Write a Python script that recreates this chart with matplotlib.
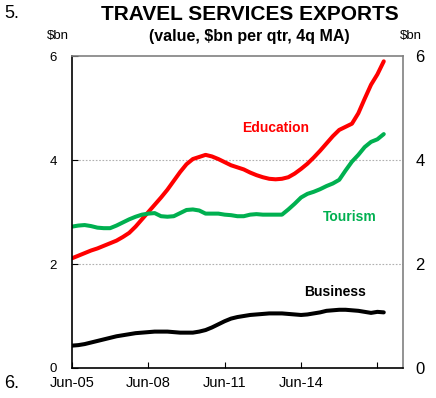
import numpy as np
import matplotlib.pyplot as plt

plt.rcParams['font.family'] = ['Liberation Sans', 'DejaVu Sans']

# quarterly, Jun-05 onwards (4q moving average, $bn per qtr)
education = [2.11, 2.16, 2.21, 2.26, 2.30, 2.35, 2.40, 2.45, 2.52, 2.60,
             2.72, 2.86, 3.00, 3.14, 3.28, 3.43, 3.60, 3.77, 3.92, 4.02,
             4.06, 4.10, 4.07, 4.02, 3.96, 3.90, 3.86, 3.82, 3.76, 3.71,
             3.67, 3.64, 3.63, 3.64, 3.67, 3.74, 3.83, 3.93, 4.05, 4.18,
             4.32, 4.46, 4.58, 4.64, 4.70, 4.90, 5.18, 5.45, 5.65, 5.90]
tourism = [2.72, 2.74, 2.75, 2.73, 2.70, 2.69, 2.69, 2.74, 2.80, 2.86,
           2.91, 2.95, 2.97, 2.98, 2.92, 2.91, 2.92, 2.98, 3.04, 3.05,
           3.03, 2.97, 2.97, 2.97, 2.95, 2.94, 2.92, 2.92, 2.95, 2.96,
           2.95, 2.95, 2.95, 2.95, 3.05, 3.16, 3.28, 3.35, 3.39, 3.44,
           3.50, 3.55, 3.62, 3.80, 3.97, 4.10, 4.25, 4.35, 4.40, 4.50]
business = [0.43, 0.44, 0.46, 0.49, 0.52, 0.55, 0.58, 0.61, 0.63, 0.65,
            0.67, 0.68, 0.69, 0.70, 0.70, 0.70, 0.69, 0.68, 0.68, 0.68,
            0.70, 0.73, 0.78, 0.84, 0.90, 0.95, 0.98, 1.00, 1.02, 1.03,
            1.04, 1.05, 1.05, 1.05, 1.04, 1.03, 1.02, 1.03, 1.05, 1.07,
            1.10, 1.11, 1.12, 1.12, 1.11, 1.10, 1.08, 1.06, 1.08, 1.07]
tick_labels = ['Jun-05', 'Jun-08', 'Jun-11', 'Jun-14', '']

q = np.arange(len(education))

fig = plt.figure(figsize=(4.36, 3.98), dpi=100)
ax = fig.add_axes([0.165, 0.0754, 0.759, 0.7836])

ax.plot(q, education, color='#ff0000', lw=2.9, solid_capstyle='round')
ax.plot(q, tourism, color='#00b050', lw=2.9, solid_capstyle='round')
ax.plot(q, business, color='black', lw=2.9, solid_capstyle='round')

ax.set_xlim(0, 52)
ax.set_ylim(0, 6)
ax.set_xticks([0, 12, 24, 36, 48])
ax.set_xticklabels(tick_labels, fontsize=10.5)
ax.set_yticks([0, 2, 4, 6])
ax.tick_params(axis='x', direction='in', length=4, pad=6)
ax.tick_params(axis='y', direction='in', length=4, labelsize=9.5, pad=11)
for y in [2, 4]:
    ax.axhline(y, color='#b0b0b0', lw=0.8, ls=(0, (1.5, 1.5)), zorder=0)

for s in ['top', 'right']:
    ax.spines[s].set_color('#808080')
    ax.spines[s].set_linewidth(1.2)
for s in ['left', 'bottom']:
    ax.spines[s].set_linewidth(1.2)

ax2 = ax.twinx()
ax2.set_ylim(0, 6)
ax2.set_yticks([0, 2, 4, 6])
ax2.tick_params(axis='y', length=0, labelsize=12, pad=9)
for s in ax2.spines.values():
    s.set_visible(False)


# text positions in pixels from the top-left
def put(x, y, s, **kw):
    fig.text(x / 436, 1 - y / 398, s, **kw)


put(276, 128, 'Education', color='#ff0000', fontsize=10, fontweight='bold',
    ha='center', va='center')
put(350, 217, 'Tourism', color='#00b050', fontsize=10, fontweight='bold',
    ha='center', va='center')
put(335, 292, 'Business', color='black', fontsize=10, fontweight='bold',
    ha='center', va='center')

put(250, 14, 'TRAVEL SERVICES EXPORTS', fontsize=15, fontweight='bold',
    ha='center', va='center')
put(249, 37, '(value, $bn per qtr, 4q MA)', fontsize=11.5, fontweight='bold',
    ha='center', va='center')
put(58, 36, '$bn', fontsize=9.5, ha='center', va='center')
put(411, 36, '$bn', fontsize=9.5, ha='center', va='center')
put(4, 13, '5.', fontsize=13, ha='left', va='center')
put(4, 384, '6.', fontsize=13, ha='left', va='center')

fig.savefig('out.png', dpi=100)
